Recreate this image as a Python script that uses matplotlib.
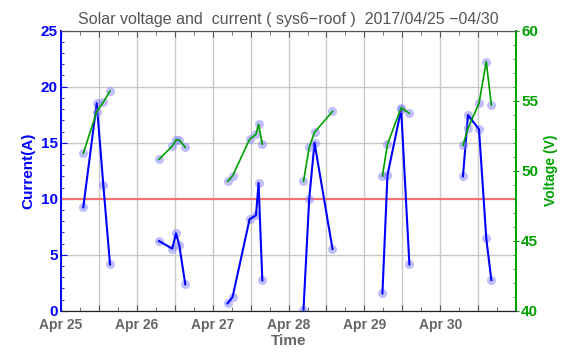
import matplotlib
matplotlib.use("Agg")
import matplotlib.pyplot as plt
import matplotlib.dates as mdates
from matplotlib.ticker import MultipleLocator, FuncFormatter
import pandas as pd
import numpy as np

plt.rcParams['font.family'] = ['Liberation Sans', 'DejaVu Sans']

# ---- data ----
times = [
    "2017-04-25 07:08", "2017-04-25 11:23", "2017-04-25 13:28", "2017-04-25 15:35",
    "2017-04-26 07:04", "2017-04-26 11:16", "2017-04-26 12:26", "2017-04-26 13:29", "2017-04-26 15:22",
    "2017-04-27 04:44", "2017-04-27 06:19", "2017-04-27 11:41", "2017-04-27 13:43", "2017-04-27 14:32", "2017-04-27 15:43",
    "2017-04-28 04:44", "2017-04-28 06:32", "2017-04-28 08:13", "2017-04-28 13:54",
    "2017-04-29 05:41", "2017-04-29 07:16", "2017-04-29 11:36", "2017-04-29 14:12",
    "2017-04-30 07:08", "2017-04-30 08:43", "2017-04-30 12:12", "2017-04-30 14:30", "2017-04-30 16:06",
]
current = [
    9.23, 18.52, 11.22, 4.14,
    6.22, 5.54, 6.91, 5.84, 2.36,
    0.66, 1.22, 8.16, 8.52, 11.40, 2.71,
    0.10, 9.97, 15.00, 5.51,
    1.55, 12.09, 17.98, 4.14,
    12.00, 17.47, 16.20, 6.46, 2.74,
]
voltage = [
    51.24, 54.21, 54.89, 55.69,
    50.81, 51.76, 52.19, 52.19, 51.67,
    49.24, 49.62, 52.24, 52.60, 53.31, 51.89,
    49.24, 51.67, 52.74, 54.24,
    49.62, 51.89, 54.50, 54.10,
    51.81, 53.03, 54.81, 57.79, 54.69,
]
threshold = 10
x_start, x_end = "2017-04-25", "2017-05-01"
title = "Solar voltage and  current ( sys6\u2212roof )  2017/04/25 \u221204/30"

df = pd.DataFrame({"t": pd.to_datetime(times), "I": current, "V": voltage})
df["day"] = df["t"].dt.date

BLUE = "#0000ff"
GREEN = "#00a000"
GRAY = "#666666"
MK = dict(marker="o", markersize=6.5, markerfacecolor="#8080ff", markeredgecolor="none", alpha=0.5)

fig = plt.figure(figsize=(5.76, 3.52), dpi=100)
ax = fig.add_axes([0.1054, 0.1173, 0.7910, 0.7955])
ax2 = ax.twinx()

for _, g in df.groupby("day"):
    ax.plot(g["t"], g["I"], color=BLUE, lw=1.5, zorder=3)
    ax.plot(g["t"], g["I"], linestyle="none", zorder=2, **MK)
    ax2.plot(g["t"], g["V"], color=GREEN, lw=1.2, zorder=3)
    ax2.plot(g["t"], g["V"], linestyle="none", zorder=2, **MK)

ax.axhline(threshold, color="#ff7070", lw=1.5, zorder=1.5)

xmin, xmax = pd.Timestamp(x_start), pd.Timestamp(x_end)
ax.set_xlim(xmin, xmax)
ax.set_ylim(0, 25)
ax2.set_ylim(40, 60)

# x ticks
ax.xaxis.set_major_locator(mdates.HourLocator(byhour=[0, 12]))
ax.xaxis.set_minor_locator(mdates.HourLocator(byhour=[6, 18]))
xmax_num = mdates.date2num(xmax)
def dfmt(x, pos):
    d = mdates.num2date(x)
    if d.hour != 0 or x >= xmax_num - 1e-6:
        return ""
    return d.strftime("%b %d")
ax.xaxis.set_major_formatter(FuncFormatter(dfmt))

ax.yaxis.set_major_locator(MultipleLocator(5))
ax.yaxis.set_minor_locator(MultipleLocator(1))
ax2.yaxis.set_major_locator(MultipleLocator(5))
ax2.yaxis.set_minor_locator(MultipleLocator(1))

ax.grid(True, which="major", color="#c8c8c8", lw=1.0, zorder=0)
ax.set_axisbelow(True)

ax.tick_params(axis="x", which="major", direction="in", length=4, colors="#555555",
               labelcolor=GRAY, labelsize=10, top=True, pad=5)
ax.tick_params(axis="x", which="minor", direction="in", length=3, colors="#555555", top=True)
for lab in ax.get_xticklabels():
    lab.set_fontweight("bold")

ax.tick_params(axis="y", which="major", direction="in", length=4, colors=BLUE, labelsize=11, pad=2)
ax.tick_params(axis="y", which="minor", direction="in", length=2.5, colors=BLUE)
ax2.tick_params(axis="y", which="major", direction="inout", length=5, colors=GREEN, labelsize=11, pad=1)
ax2.tick_params(axis="y", which="minor", direction="in", length=2.5, colors=GREEN)
for lab in ax.get_yticklabels() + ax2.get_yticklabels():
    lab.set_fontweight("bold")

for a in (ax, ax2):
    a.spines["left"].set_color(BLUE)
    a.spines["right"].set_color(GREEN)
    a.spines["top"].set_color("#555555")
    a.spines["bottom"].set_color("#222222")
    a.spines["left"].set_linewidth(1.2)
    a.spines["right"].set_linewidth(1.2)

ax.set_ylabel("Current(A)", color=BLUE, fontsize=11, fontweight="bold", labelpad=4)
ax2.set_ylabel("Voltage (V)", color=GREEN, fontsize=10, fontweight="bold", labelpad=4)
ax.set_xlabel("Time", color=GRAY, fontsize=11, fontweight="bold", labelpad=2)
ax.set_title(title, color="#555555", fontsize=11.5, pad=5)

fig.savefig("out.png", dpi=100)
